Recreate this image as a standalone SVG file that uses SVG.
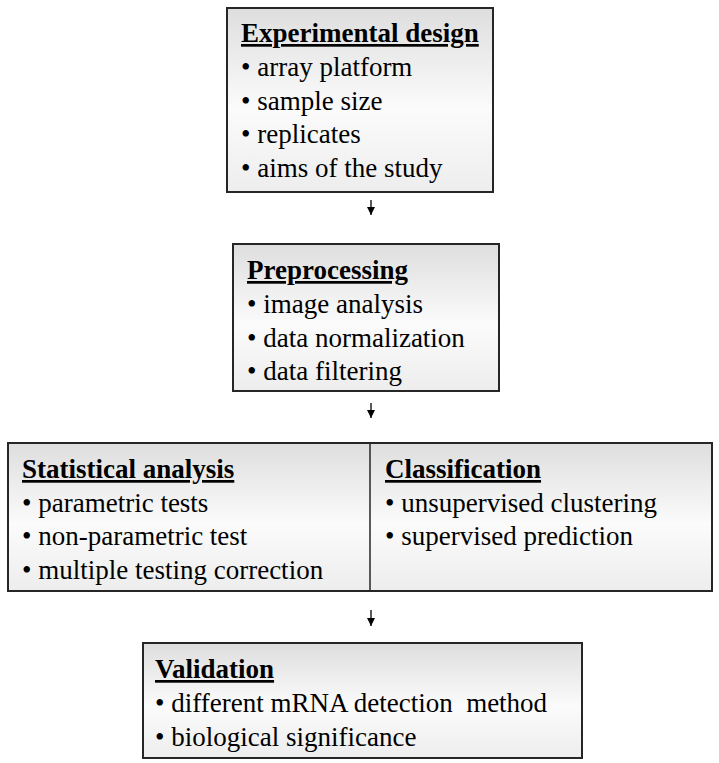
<svg xmlns="http://www.w3.org/2000/svg" width="719" height="763" viewBox="0 0 719 763">
<defs>
<linearGradient id="g" x1="0" y1="0" x2="0" y2="1">
<stop offset="0" stop-color="#dedede"/>
<stop offset="0.55" stop-color="#fbfbfb"/>
<stop offset="1" stop-color="#ededed"/>
</linearGradient>
<marker id="ah" markerWidth="8" markerHeight="8" refX="8" refY="4" orient="auto" markerUnits="userSpaceOnUse" viewBox="0 0 8 8">
<path d="M0,0 L8,4 L0,8 Z" fill="#000"/>
</marker>
</defs>
<style>
.box{fill:url(#g);stroke:#262626;stroke-width:2}
.t{font-family:"Liberation Serif","Times New Roman",serif;font-size:27px;fill:#000;white-space:pre}
.h{font-weight:bold;text-decoration:underline}
.c{stroke:#000;stroke-width:1.3;fill:none}
</style>
<g id="experimental-design">
<rect class="box" x="227" y="8" width="266" height="184"/>
<text class="t h" x="241" y="42">Experimental design</text>
<text class="t" x="241" y="76">• array platform</text>
<text class="t" x="241" y="110">• sample size</text>
<text class="t" x="241" y="143">• replicates</text>
<text class="t" x="241" y="177">• aims of the study</text>
</g>
<g id="preprocessing">
<rect class="box" x="233" y="244" width="266" height="147"/>
<text class="t h" x="247" y="279">Preprocessing</text>
<text class="t" x="247" y="313">• image analysis</text>
<text class="t" x="247" y="347">• data normalization</text>
<text class="t" x="247" y="380">• data filtering</text>
</g>
<g id="analysis">
<rect class="box" x="8" y="443" width="704" height="148"/>
<line x1="370" y1="443" x2="370" y2="591" stroke="#262626" stroke-width="1.5"/>
<g id="statistical-analysis">
<text class="t h" x="22" y="478">Statistical analysis</text>
<text class="t" x="22" y="512">• parametric tests</text>
<text class="t" x="22" y="545">• non-parametric test</text>
<text class="t" x="22" y="579">• multiple testing correction</text>
</g>
<g id="classification">
<text class="t h" x="385" y="478">Classification</text>
<text class="t" x="385" y="512">• unsupervised clustering</text>
<text class="t" x="385" y="545">• supervised prediction</text>
</g>
</g>
<g id="validation">
<rect class="box" x="143" y="643" width="439" height="115"/>
<text class="t h" x="155" y="678">Validation</text>
<text class="t" x="155" y="712" xml:space="preserve">• different mRNA detection  method</text>
<text class="t" x="155" y="746">• biological significance</text>
</g>
<g id="connectors">
<line class="c" x1="371" y1="200" x2="371" y2="215" marker-end="url(#ah)"/>
<line class="c" x1="371" y1="403" x2="371" y2="418" marker-end="url(#ah)"/>
<line class="c" x1="371" y1="610" x2="371" y2="626" marker-end="url(#ah)"/>
</g>
</svg>
